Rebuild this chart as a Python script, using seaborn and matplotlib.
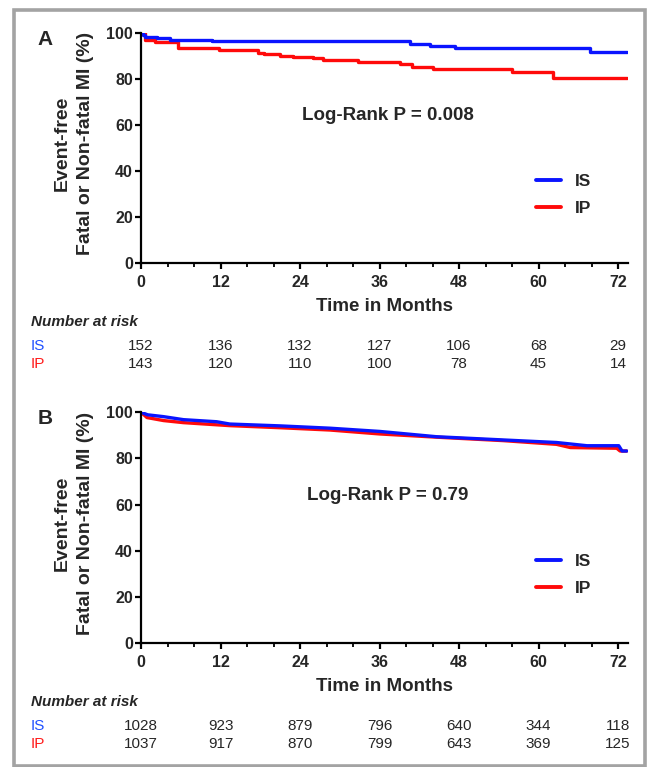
import numpy as np
import pandas as pd
import seaborn as sns
import matplotlib.pyplot as plt
from matplotlib.lines import Line2D
from matplotlib.patches import Rectangle
from matplotlib.ticker import MultipleLocator
from matplotlib.transforms import blended_transform_factory

# panel A - KM steps (month, % event-free)
a_is_time = [0, 0.3, 0.6, 2.4, 4.4, 10.7, 40.6, 43.6, 47.4, 67.8, 73.3]
a_is_surv = [100, 99.3, 98.3, 97.8, 97.1, 96.5, 95.4, 94.3, 93.5, 91.7, 91.7]
a_ip_time = [0, 0.6, 2.1, 5.6, 11.7, 17.7, 18.5, 21.0, 23.0, 26.0, 27.5,
             32.8, 39.1, 40.9, 44.1, 56.0, 62.2, 73.3]
a_ip_surv = [100, 97.1, 96.1, 93.5, 92.7, 91.6, 90.8, 90.2, 89.5, 89.1, 88.4,
             87.4, 86.5, 85.5, 84.4, 83.0, 80.4, 80.4]

# panel B - large cohort, curve looks almost smooth
b_is_time = [0, 1, 3.4, 6.4, 11.4, 13.4, 21, 28.5, 36, 44.6, 54.7, 62.7,
             67.3, 72.1, 72.6, 73.3]
b_is_surv = [100, 98.9, 98.1, 96.8, 95.9, 94.9, 94.1, 93.1, 91.7, 89.4, 88.0,
             86.9, 85.5, 85.5, 83.2, 83.2]
b_ip_time = [0, 0.9, 3.4, 6.4, 13.4, 21, 28.5, 36, 44.6, 54.7, 62.7, 64.8,
             71.8, 72.3, 73.3]
b_ip_surv = [100, 97.7, 96.4, 95.5, 94.2, 93.3, 92.3, 90.6, 89.2, 87.7, 86.1,
             84.7, 84.4, 83.2, 83.2]

months = [0, 12, 24, 36, 48, 60, 72]
a_risk_is = [152, 136, 132, 127, 106, 68, 29]
a_risk_ip = [143, 120, 110, 100, 78, 45, 14]
b_risk_is = [1028, 923, 879, 796, 640, 344, 118]
b_risk_ip = [1037, 917, 870, 799, 643, 369, 125]

blue = '#0a14ff'
red = '#ff0a0a'

sns.set_style('ticks')
plt.rcParams['font.family'] = ['Liberation Sans', 'DejaVu Sans']

fig = plt.figure(figsize=(6.49, 7.67), dpi=100)


def km_panel(ax, is_t, is_s, ip_t, ip_s, p_text, risk_is, risk_ip, step):
    df = pd.concat([
        pd.DataFrame({'month': ip_t, 'surv': ip_s, 'group': 'IP'}),
        pd.DataFrame({'month': is_t, 'surv': is_s, 'group': 'IS'}),
    ])
    sns.lineplot(data=df, x='month', y='surv', hue='group',
                 hue_order=['IP', 'IS'], palette={'IS': blue, 'IP': red},
                 estimator=None, sort=False, linewidth=2.4, legend=False,
                 drawstyle='steps-post' if step else 'default', ax=ax)

    ax.set_xlim(0, 73.5)
    ax.set_ylim(0, 100)
    ax.set_xticks(months)
    ax.xaxis.set_minor_locator(MultipleLocator(4))
    ax.set_yticks(range(0, 101, 20))
    sns.despine(ax=ax)
    for s in ['left', 'bottom']:
        ax.spines[s].set_linewidth(1.6)
        ax.spines[s].set_color('black')
    ax.tick_params(which='major', length=4.3, width=1.6, labelsize=11.5,
                   color='black')
    ax.tick_params(which='minor', length=2.6, width=1.3, color='black')
    ax.tick_params(axis='x', pad=4.5)
    ax.tick_params(axis='y', pad=1.5)
    for lab in ax.get_xticklabels() + ax.get_yticklabels():
        lab.set_fontweight('bold')

    ax.set_xlabel('Time in Months', fontsize=13.5, fontweight='bold')
    ax.xaxis.set_label_coords(0.5, -0.152)
    ax.set_ylabel('Event-free\nFatal or Non-fatal MI (%)', fontsize=14,
                  fontweight='bold', linespacing=1.5)
    ax.yaxis.set_label_coords(-0.097, 0.52)

    ax.text(37.3, 64.0, p_text, ha='center', va='center', fontsize=13.5,
            fontweight='bold')

    handles = [Line2D([], [], color=blue, lw=2.8),
               Line2D([], [], color=red, lw=2.8)]
    ax.legend(handles, ['IS', 'IP'], loc='center left',
              bbox_to_anchor=(0.811, 0.295), frameon=False, borderpad=0,
              borderaxespad=0, handlelength=1.45, handletextpad=0.8,
              labelspacing=0.65, prop={'weight': 'bold', 'size': 12.5})

    # number at risk table
    trans = blended_transform_factory(ax.transData, ax.transAxes)
    ax.text(-0.226, -0.257, 'Number at risk', transform=ax.transAxes,
            ha='left', va='center', fontsize=11, fontweight='bold',
            fontstyle='italic')
    ax.text(-0.226, -0.362, 'IS', transform=ax.transAxes, ha='left',
            va='center', fontsize=11, color='#2050ff')
    ax.text(-0.226, -0.440, 'IP', transform=ax.transAxes, ha='left',
            va='center', fontsize=11, color='#ff1a1a')
    for m, n1, n2 in zip(months, risk_is, risk_ip):
        ax.text(m, -0.362, str(n1), transform=trans, ha='center',
                va='center', fontsize=11)
        ax.text(m, -0.440, str(n2), transform=trans, ha='center',
                va='center', fontsize=11)


ax_a = fig.add_axes([0.2173, 0.6575, 0.7504, 0.2991])
km_panel(ax_a, a_is_time, a_is_surv, a_ip_time, a_ip_surv,
         'Log-Rank P = 0.008', a_risk_is, a_risk_ip, step=True)

ax_b = fig.add_axes([0.2173, 0.1617, 0.7504, 0.3008])
km_panel(ax_b, b_is_time, b_is_surv, b_ip_time, b_ip_surv,
         'Log-Rank P = 0.79', b_risk_is, b_risk_ip, step=False)

fig.text(45.5 / 649, 1 - 39.5 / 767, 'A', fontsize=15, fontweight='bold',
         ha='center', va='center')
fig.text(45.5 / 649, 1 - 418.3 / 767, 'B', fontsize=15, fontweight='bold',
         ha='center', va='center')

# gray frame round the whole figure
fig.add_artist(Rectangle((14 / 649, 1 - 766 / 767), 631 / 649, 756.5 / 767,
                         transform=fig.transFigure, fill=False,
                         ec='#a3a3a3', lw=2.6))

fig.savefig('out.png', dpi=100)
